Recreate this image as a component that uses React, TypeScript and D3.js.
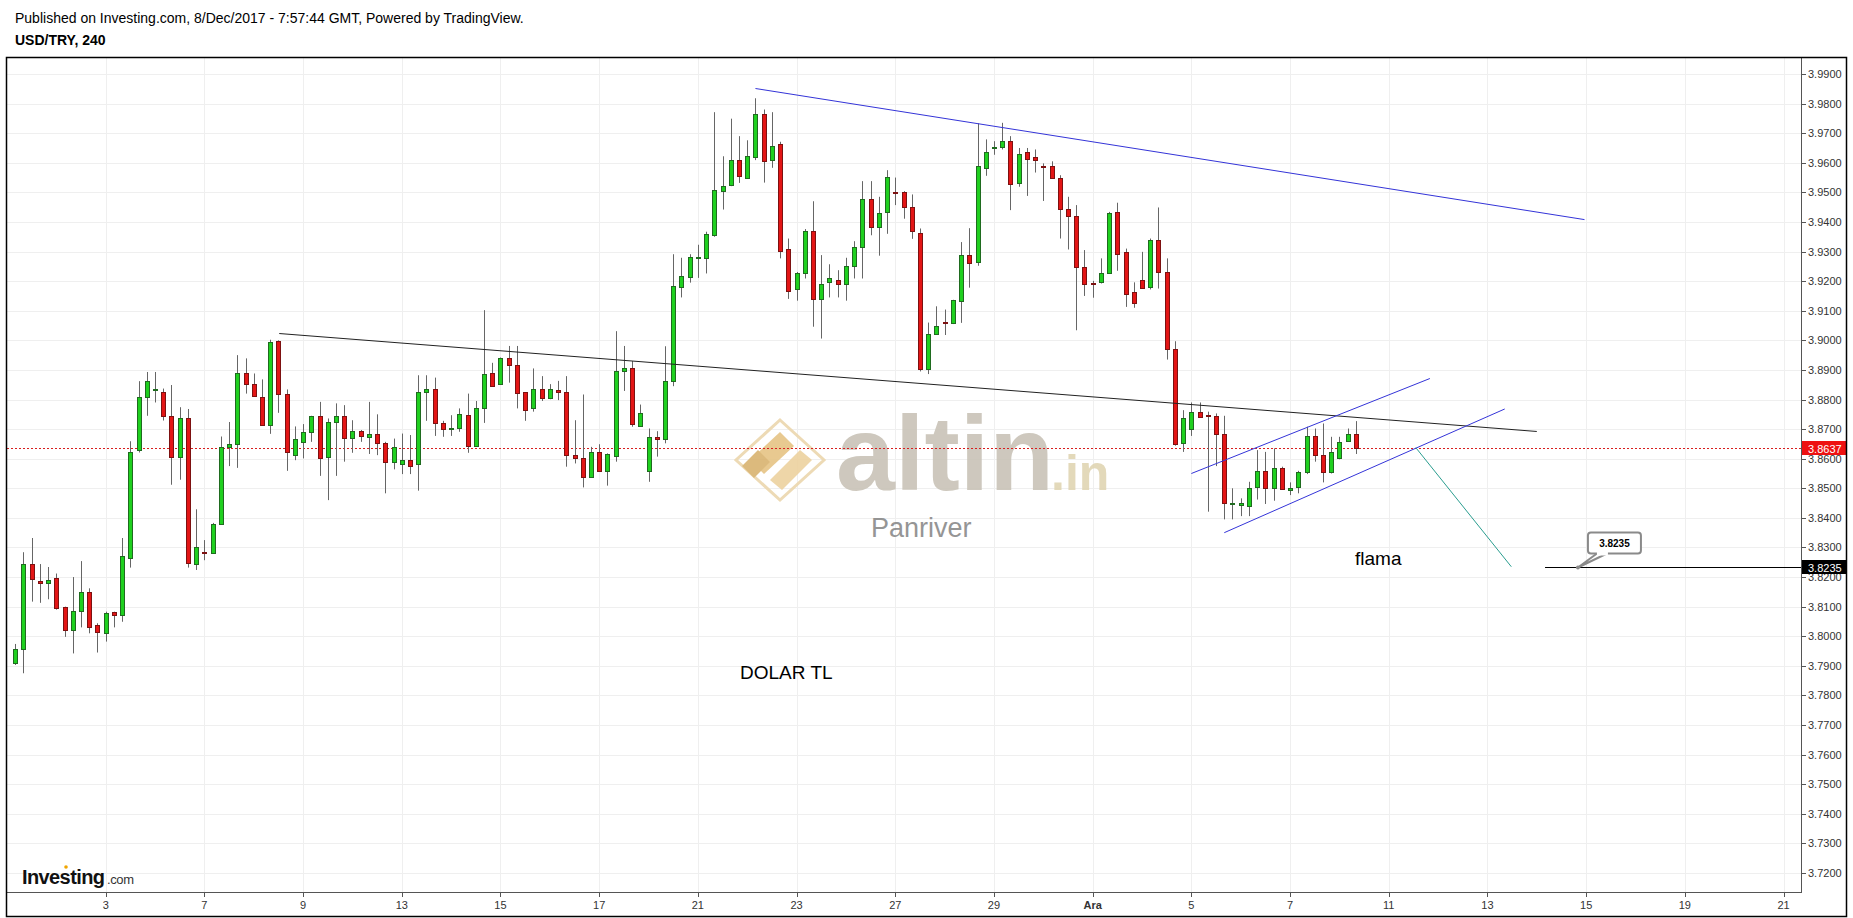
import React from 'react'
import * as d3 from 'd3'

// USD/TRY 4h candles (bar 0 = first candle on the left)
const opens = [
  3.7911, 3.7958, 3.8244, 3.8186, 3.8179, 3.8196, 3.8098, 3.8020, 3.8084, 3.8148,
  3.8037, 3.8010, 3.8081, 3.8071, 3.8266, 3.8629, 3.8807, 3.8832, 3.8827, 3.8745,
  3.8607, 3.8739, 3.8243, 3.8285, 3.8283, 3.8378, 3.8638, 3.8648, 3.8888, 3.8854,
  3.8810, 3.8715, 3.8997, 3.8820, 3.8614, 3.8657, 3.8689, 3.8743, 3.8607, 3.8723,
  3.8745, 3.8671, 3.8695, 3.8675, 3.8685, 3.8652, 3.8590, 3.8581, 3.8595, 3.8581,
  3.8824, 3.8834, 3.8719, 3.8701, 3.8705, 3.8747, 3.8644, 3.8773, 3.8891, 3.8854,
  3.8939, 3.8916, 3.8824, 3.8770, 3.8837, 3.8804, 3.8832, 3.8824, 3.8612, 3.8601,
  3.8539, 3.8621, 3.8559, 3.8610, 3.8896, 3.8907, 3.8710, 3.8559, 3.8672, 3.8665,
  3.8862, 3.9181, 3.9215, 3.9279, 3.9277, 3.9355, 3.9505, 3.9525, 3.9609, 3.9549,
  3.9620, 3.9764, 3.9611, 3.9663, 3.9307, 3.9174, 3.9226, 3.9369, 3.9138, 3.9196,
  3.9203, 3.9191, 3.9252, 3.9314, 3.9479, 3.9384, 3.9432, 3.9502, 3.9500, 3.9449,
  3.9364, 3.8904, 3.9020, 3.9061, 3.9057, 3.9134, 3.9288, 3.9265, 3.9581, 3.9654,
  3.9655, 3.9672, 3.9530, 3.9635, 3.9620, 3.9590, 3.9590, 3.9547, 3.9445, 3.9421,
  3.9248, 3.9193, 3.9198, 3.9229, 3.9432, 3.9297, 3.9162, 3.9203, 3.9181, 3.9339,
  3.9232, 3.8972, 3.8652, 3.8702, 3.8759, 3.8746, 3.8745, 3.8685, 3.8450, 3.8443,
  3.8440, 3.8503, 3.8558, 3.8500, 3.8567, 3.8494, 3.8503, 3.8554, 3.8677, 3.8612,
  3.8554, 3.8601, 3.8661, 3.8683,
]
const highs = [
  3.7974, 3.8284, 3.8332, 3.8244, 3.8234, 3.8212, 3.8100, 3.8200, 3.8254, 3.8162,
  3.8044, 3.8083, 3.8083, 3.8332, 3.8659, 3.8862, 3.8893, 3.8893, 3.8837, 3.8849,
  3.8774, 3.8768, 3.8429, 3.8325, 3.8383, 3.8675, 3.8724, 3.8950, 3.8939, 3.8888,
  3.8868, 3.9002, 3.9000, 3.8834, 3.8709, 3.8717, 3.8745, 3.8792, 3.8736, 3.8787,
  3.8781, 3.8730, 3.8697, 3.8792, 3.8750, 3.8657, 3.8668, 3.8685, 3.8680, 3.8882,
  3.8882, 3.8874, 3.8728, 3.8747, 3.8770, 3.8820, 3.8795, 3.9102, 3.8924, 3.8942,
  3.8981, 3.8981, 3.8825, 3.8905, 3.8879, 3.8852, 3.8863, 3.8879, 3.8730, 3.8817,
  3.8640, 3.8649, 3.8618, 3.9031, 3.8981, 3.8930, 3.8783, 3.8702, 3.8693, 3.8980,
  3.9291, 3.9279, 3.9291, 3.9323, 3.9367, 3.9771, 3.9622, 3.9749, 3.9690, 3.9676,
  3.9818, 3.9780, 3.9771, 3.9671, 3.9344, 3.9231, 3.9376, 3.9470, 3.9288, 3.9257,
  3.9237, 3.9279, 3.9335, 3.9538, 3.9538, 3.9485, 3.9575, 3.9550, 3.9504, 3.9493,
  3.9378, 3.9060, 3.9115, 3.9104, 3.9137, 3.9332, 3.9379, 3.9733, 3.9679, 3.9673,
  3.9735, 3.9690, 3.9650, 3.9650, 3.9645, 3.9598, 3.9605, 3.9558, 3.9485, 3.9457,
  3.9305, 3.9201, 3.9277, 3.9434, 3.9465, 3.9310, 3.9196, 3.9299, 3.9344, 3.9449,
  3.9277, 3.8997, 3.8764, 3.8790, 3.8790, 3.8759, 3.8753, 3.8745, 3.8500, 3.8466,
  3.8522, 3.8629, 3.8623, 3.8635, 3.8573, 3.8520, 3.8559, 3.8708, 3.8702, 3.8719,
  3.8674, 3.8674, 3.8702, 3.8727,
]
const lows = [
  3.7903, 3.7875, 3.8117, 3.8113, 3.8125, 3.8090, 3.7998, 3.7942, 3.8030, 3.8010,
  3.7945, 3.7982, 3.8030, 3.8049, 3.8232, 3.8621, 3.8745, 3.8790, 3.8729, 3.8512,
  3.8529, 3.8232, 3.8224, 3.8257, 3.8280, 3.8376, 3.8575, 3.8569, 3.8820, 3.8809,
  3.8712, 3.8684, 3.8755, 3.8559, 3.8595, 3.8601, 3.8657, 3.8542, 3.8460, 3.8542,
  3.8590, 3.8620, 3.8657, 3.8616, 3.8612, 3.8483, 3.8564, 3.8548, 3.8548, 3.8492,
  3.8728, 3.8677, 3.8674, 3.8677, 3.8691, 3.8620, 3.8642, 3.8721, 3.8844, 3.8852,
  3.8857, 3.8770, 3.8728, 3.8759, 3.8795, 3.8801, 3.8798, 3.8573, 3.8584, 3.8503,
  3.8537, 3.8557, 3.8509, 3.8590, 3.8829, 3.8708, 3.8709, 3.8522, 3.8607, 3.8652,
  3.8845, 3.9145, 3.9195, 3.9211, 3.9226, 3.9350, 3.9442, 3.9521, 3.9532, 3.9548,
  3.9609, 3.9533, 3.9583, 3.9277, 3.9140, 3.9134, 3.9209, 3.9046, 3.9006, 3.9145,
  3.9145, 3.9134, 3.9209, 3.9209, 3.9355, 3.9286, 3.9360, 3.9457, 3.9411, 3.9343,
  3.8895, 3.8886, 3.9018, 3.9018, 3.9055, 3.9059, 3.9178, 3.9252, 3.9556, 3.9627,
  3.9645, 3.9440, 3.9519, 3.9488, 3.9567, 3.9471, 3.9547, 3.9344, 3.9307, 3.9034,
  3.9150, 3.9144, 3.9192, 3.9226, 3.9235, 3.9113, 3.9110, 3.9178, 3.9172, 3.9175,
  3.8935, 3.8644, 3.8623, 3.8677, 3.8742, 3.8421, 3.8575, 3.8395, 3.8395, 3.8406,
  3.8406, 3.8462, 3.8447, 3.8458, 3.8497, 3.8477, 3.8483, 3.8548, 3.8590, 3.8520,
  3.8550, 3.8598, 3.8661, 3.8616,
]
const closes = [
  3.7956, 3.8244, 3.8192, 3.8179, 3.8190, 3.8094, 3.8020, 3.8084, 3.8148, 3.8030,
  3.8016, 3.8077, 3.8071, 3.8270, 3.8621, 3.8810, 3.8864, 3.8834, 3.8745, 3.8607,
  3.8739, 3.8246, 3.8300, 3.8283, 3.8381, 3.8638, 3.8648, 3.8888, 3.8854, 3.8813,
  3.8715, 3.8995, 3.8820, 3.8621, 3.8665, 3.8689, 3.8743, 3.8604, 3.8723, 3.8745,
  3.8671, 3.8695, 3.8677, 3.8685, 3.8652, 3.8590, 3.8638, 3.8595, 3.8576, 3.8824,
  3.8834, 3.8719, 3.8702, 3.8703, 3.8750, 3.8644, 3.8773, 3.8886, 3.8846, 3.8939,
  3.8918, 3.8823, 3.8766, 3.8834, 3.8804, 3.8834, 3.8824, 3.8614, 3.8601, 3.8539,
  3.8623, 3.8559, 3.8616, 3.8896, 3.8907, 3.8716, 3.8753, 3.8672, 3.8665, 3.8862,
  3.9183, 3.9217, 3.9282, 3.9281, 3.9358, 3.9507, 3.9523, 3.9609, 3.9556, 3.9622,
  3.9764, 3.9607, 3.9658, 3.9303, 3.9167, 3.9228, 3.9369, 3.9138, 3.9192, 3.9209,
  3.9191, 3.9251, 3.9315, 3.9479, 3.9384, 3.9429, 3.9552, 3.9500, 3.9451, 3.9370,
  3.8904, 3.9020, 3.9050, 3.9059, 3.9136, 3.9288, 3.9263, 3.9589, 3.9636, 3.9655,
  3.9672, 3.9527, 3.9631, 3.9614, 3.9609, 3.9588, 3.9547, 3.9445, 3.9421, 3.9248,
  3.9192, 3.9192, 3.9229, 3.9429, 3.9293, 3.9158, 3.9125, 3.9178, 3.9339, 3.9232,
  3.8970, 3.8649, 3.8738, 3.8759, 3.8742, 3.8745, 3.8685, 3.8449, 3.8452, 3.8451,
  3.8500, 3.8559, 3.8500, 3.8567, 3.8497, 3.8502, 3.8554, 3.8677, 3.8612, 3.8554,
  3.8623, 3.8655, 3.8685, 3.8637,
]

// date labels on the time axis and the bar they sit on
const dayLabels = ['3', '7', '9', '13', '15', '17', '21', '23', '27', '29', 'Ara', '5', '7', '11', '13', '15', '19', '21']
const dayLabelBars = [11, 23, 35, 47, 59, 71, 83, 95, 107, 119, 131, 143, 155, 167, 179, 191, 203, 215]
const priceTicks = d3.range(372, 400).map(v => v / 100)

// drawings: [bar, price] pairs
const upperTrend = [[90, 3.9851], [190.8, 3.9408]]
const neckline = [[32.1, 3.9023], [185, 3.8692]]
const channelTop = [[143, 3.855], [172, 3.8871]]
const channelBottom = [[147, 3.835], [181.1, 3.8768]]
const targetMove = [[170.3, 3.8637], [181.9, 3.8235]]
const targetLevel = 3.8235
const targetStartBar = 186
const calloutBar = 190
const lastPrice = 3.8637

const FONT = 'Arial, "Liberation Sans", sans-serif'

export default function App() {
  const W = 1853
  const H = 918
  const left = 7, right = 1801, top = 58, bottom = 892

  const x = d3.scaleLinear().domain([-1, 217]).range([left, right - 1])
  const y = d3.scaleLinear().domain([3.72, 3.99]).range([873, 74])

  const line = (pts: number[][]) =>
    d3.line<number[]>().x(d => x(d[0])).y(d => y(d[1]))(pts) || ''

  const bars = opens.map((o, i) => ({ i, o, h: highs[i], l: lows[i], c: closes[i] }))

  const lastY = Math.round(y(lastPrice)) + 0.5
  const tgtY = Math.round(y(targetLevel)) + 0.5
  const cx = x(calloutBar)

  return (
    <svg width={W} height={H} style={{ position: 'absolute', left: 0, top: 0, background: '#fff' }} fontFamily={FONT}>
      <rect x={0} y={0} width={W} height={H} fill="#fff" />
      <text x={15} y={23} fontSize={14} fill="#000">Published on Investing.com, 8/Dec/2017 - 7:57:44 GMT, Powered by TradingView.</text>
      <text x={15} y={45} fontSize={14} fontWeight="bold" fill="#000">USD/TRY, 240</text>

      {/* grid */}
      <g stroke="#efefef" strokeWidth={1} shapeRendering="crispEdges">
        {priceTicks.map(t => (
          <line key={'h' + t} x1={left} x2={right} y1={Math.round(y(t)) + 0.5} y2={Math.round(y(t)) + 0.5} />
        ))}
        {dayLabelBars.map((b, k) => (
          <line key={'v' + k} x1={Math.round(x(b)) + 0.5} x2={Math.round(x(b)) + 0.5} y1={top} y2={bottom} />
        ))}
      </g>

      {/* watermark */}
      <g opacity={0.9}>
        <g transform="translate(780,460)">
          <path d="M0,-40 L44,0 L0,40 L-44,0 Z" fill="none" stroke="#ecd7ad" strokeWidth={3} />
          <path d="M-30,0 L0,-28 L14,-14 L-16,14 Z" fill="#e6c485" />
          <path d="M-10,20 L20,-10 L32,0 L2,30 Z" fill="#edd29f" />
          <path d="M-38,6 L-22,-10 L-10,2 L-26,18 Z" fill="#d9b36f" />
        </g>
        <text x={836} y={490} fontSize={106} fontWeight="bold" fill="#c9c3b7">altin</text>
        <text x={1051} y={490} fontSize={50} fontWeight="bold" fill="#e0d5b3">.in</text>
        <text x={871} y={537} fontSize={27} fill="#8a8a8a">Panriver</text>
      </g>

      {/* last price dotted line */}
      <line x1={left} x2={right} y1={lastY} y2={lastY} stroke="#d81e1e" strokeWidth={1} strokeDasharray="2,2" />

      {/* candles */}
      <g>
        {bars.map(b => {
          const px = Math.round(x(b.i))
          const up = b.c >= b.o
          const yt = Math.round(y(Math.max(b.o, b.c)))
          const yb = Math.round(y(Math.min(b.o, b.c)))
          const hgt = Math.max(1, yb - yt)
          return (
            <g key={b.i}>
              <line x1={px + 0.5} x2={px + 0.5} y1={y(b.h)} y2={y(b.l)} stroke="#666" strokeWidth={1} />
              <rect x={px - 1.5} y={yt + 0.5} width={4} height={hgt} fill={up ? '#1fd01f' : '#e31515'}
                stroke={up ? '#1f6b1f' : '#7d1111'} strokeWidth={1} />
            </g>
          )
        })}
      </g>

      {/* drawings */}
      <path d={line(upperTrend)} stroke="#3434d8" strokeWidth={1} fill="none" />
      <path d={line(neckline)} stroke="#222" strokeWidth={1} fill="none" />
      <path d={line(channelTop)} stroke="#3434d8" strokeWidth={1} fill="none" />
      <path d={line(channelBottom)} stroke="#3434d8" strokeWidth={1} fill="none" />
      <path d={line(targetMove)} stroke="#2a9d8f" strokeWidth={1} fill="none" />
      <line x1={x(targetStartBar)} x2={right} y1={tgtY} y2={tgtY} stroke="#000" strokeWidth={1} />

      {/* callout */}
      <g>
        <path d={`M${cx},${tgtY} L${cx + 19},${tgtY - 14} L${cx + 29},${tgtY - 14} Z`} fill="#fff" stroke="#8a8a8a" strokeWidth={2} strokeLinejoin="round" />
        <rect x={cx + 10} y={tgtY - 35} width={53} height={21} rx={3} fill="#fff" stroke="#8a8a8a" strokeWidth={2} />
        <rect x={cx + 19} y={tgtY - 16} width={11} height={4} fill="#fff" />
        <circle cx={cx} cy={tgtY} r={2} fill="#8a8a8a" />
        <text x={cx + 36.5} y={tgtY - 20.5} fontSize={10} fontWeight="bold" textAnchor="middle" fill="#000">3.8235</text>
      </g>

      <text x={1355} y={565} fontSize={19} fill="#000">flama</text>
      <text x={740} y={679} fontSize={19} fill="#000">DOLAR TL</text>

      {/* investing logo */}
      <text x={22} y={884} fontSize={20} fontWeight="bold" fill="#111" letterSpacing={-0.6}>Investing</text>
      <circle cx={66} cy={867} r={1.8} fill="#f0a500" />
      <text x={107} y={884} fontSize={13} fill="#333" letterSpacing={-0.4}>.com</text>

      {/* axes */}
      <g stroke="#555" strokeWidth={1} shapeRendering="crispEdges">
        <line x1={right + 0.5} x2={right + 0.5} y1={top} y2={bottom + 0.5} />
        <line x1={left} x2={right} y1={bottom + 0.5} y2={bottom + 0.5} />
        {priceTicks.map(t => (
          <line key={'yt' + t} x1={right} x2={right + 5} y1={Math.round(y(t)) + 0.5} y2={Math.round(y(t)) + 0.5} />
        ))}
        {dayLabelBars.map((b, k) => (
          <line key={'xt' + k} x1={Math.round(x(b)) + 0.5} x2={Math.round(x(b)) + 0.5} y1={bottom} y2={bottom + 5} />
        ))}
      </g>
      <g fontSize={11} fill="#333">
        {priceTicks.map(t => (
          <text key={'yl' + t} x={right + 7} y={y(t) + 4}>{t.toFixed(4)}</text>
        ))}
        {dayLabels.map((lab, k) => (
          <text key={'xl' + k} x={x(dayLabelBars[k])} y={909} textAnchor="middle"
            fontWeight={lab === 'Ara' ? 'bold' : 'normal'}>{lab}</text>
        ))}
      </g>

      {/* price tags */}
      <rect x={right + 1} y={lastY - 7.5} width={44} height={14} fill="#ee1111" />
      <text x={right + 7} y={lastY + 4} fontSize={11} fill="#fff">{lastPrice.toFixed(4)}</text>
      <rect x={right + 1} y={tgtY - 7.5} width={44} height={14} fill="#000" />
      <text x={right + 7} y={tgtY + 4} fontSize={11} fill="#fff">{targetLevel.toFixed(4)}</text>

      {/* frame */}
      <rect x={6.5} y={57.5} width={1840} height={859} fill="none" stroke="#000" strokeWidth={1.5} />
    </svg>
  )
}
